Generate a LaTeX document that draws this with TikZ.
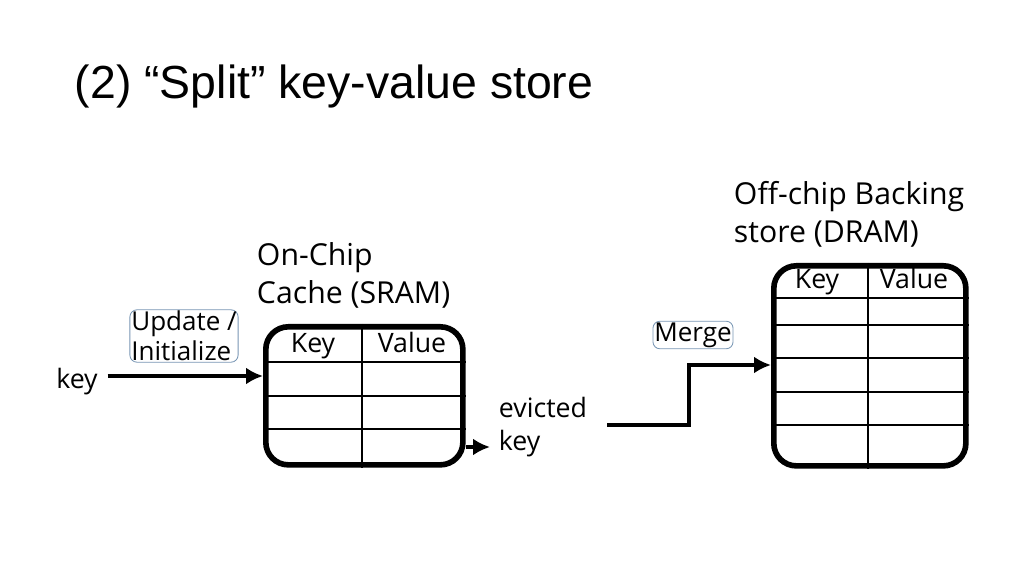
\documentclass[tikz,border=0pt]{standalone}
\usepackage{fontspec}
\setmainfont{Open Sans}
\newfontfamily\titlefont{Liberation Sans}
\usetikzlibrary{positioning,arrows.meta}
\definecolor{boxedge}{RGB}{120, 150, 180}
\tikzset{
    memory/.style={draw,line width=4pt,rounded corners=16pt,inner sep=0pt,anchor=north west},
    rowline/.style={line width=1.6pt},
    flow/.style={line width=3.5pt,-{Latex[length=12pt,width=12pt]}},
    tag/.style={draw=boxedge,fill=white,line width=0.6pt,rounded corners=5pt,inner sep=1pt,font=\fontsize{18.5}{21}\selectfont,align=left},
    label/.style={font=\fontsize{19}{23}\selectfont,align=left},
    cell/.style={font=\fontsize{19}{23}\selectfont,text height=13pt,text depth=4pt},
    heading/.style={font=\fontsize{21.5}{27}\selectfont,align=left,anchor=north west}
}
\begin{document}
\begin{tikzpicture}[x=0.025cm,y=-0.025cm]
    \useasboundingbox (0,0) rectangle (1024,576);

    % Title
    \node[anchor=west,font=\titlefont\fontsize{33}{37}\selectfont] (title) at (70,87) {(2) “Split” key-value store};

    % On-chip cache
    \node[memory,minimum width=4.925cm,minimum height=3.45cm] (sram) at (263,324) {};
    \draw[rowline] (362,0 |- sram.north) -- (362,0 |- sram.south);
    \foreach \y in {362,396,429} \draw[rowline] (sram.west |- 0,\y) -- (sram.east |- 0,\y);
    \node[cell] (sramkey) at (313,346) {Key};
    \node[cell] (sramval) at (412,346) {Value};
    \node[heading] (sramhead) at (252,238) {On-Chip\\Cache (SRAM)};

    % Off-chip store
    \node[memory,minimum width=4.8cm,minimum height=5cm] (dram) at (771,263) {};
    \draw[rowline] (868,0 |- dram.north) -- (868,0 |- dram.south);
    \foreach \y in {298,325,358,392,425} \draw[rowline] (dram.west |- 0,\y) -- (dram.east |- 0,\y);
    \node[cell] (dramkey) at (817,282) {Key};
    \node[cell] (dramval) at (914,282) {Value};
    \node[heading] (dramhead) at (729,176) {Off-chip Backing\\store (DRAM)};

    % Inputs and outputs
    \node[label] (key) at (77,382) {key};
    \coordinate (sramin) at (sram.west |- 0,376);
    \draw[flow] (key.east |- sramin) ++(5,0) -- (sramin);
    \node[tag] (update) at (184,336) {Update /\\Initialize};

    \coordinate (sramout) at (sram.east |- 0,447);
    \draw[flow] (sramout) -- (490,447);
    \node[label,anchor=west] (evicted) at (494,427) {evicted\\key};

    \coordinate (mergein) at (dram.west |- 0,365);
    \draw[flow] (607,425) -- (689,425) -- (689,365) -- (mergein);
    \node[tag] (merge) at (693,335) {Merge};
\end{tikzpicture}
\end{document}
